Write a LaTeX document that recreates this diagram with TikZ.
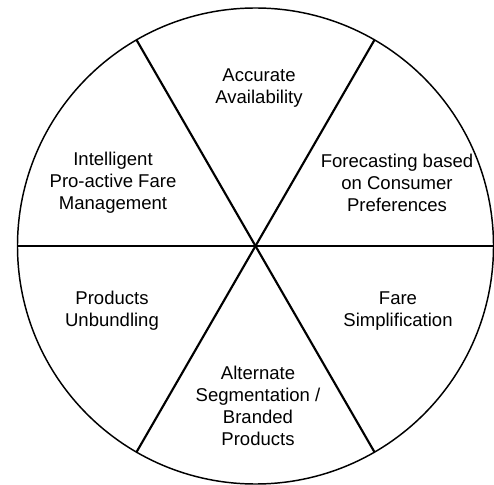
\documentclass[tikz,border=0pt]{standalone}
\usepackage{fontspec}
\setmainfont{Liberation Sans}
\begin{document}
\begin{tikzpicture}[x=0.75pt,y=-0.75pt,
  rim/.style={line width=1.1pt},
  spoke/.style={line width=1.6pt},
  label/.style={align=center,inner sep=0pt,
    font=\fontsize{13.9pt}{16.5pt}\selectfont}]
  \useasboundingbox (0,0) rectangle (494,485);
  \coordinate (c) at (255.5,246);
  % outer circle
  \draw[rim] (c) circle[radius=238*0.75pt];
  % three diameters split the disc into six sectors
  \draw[spoke] ([shift={(180:238*0.75pt)}]c) -- ([shift={(0:238*0.75pt)}]c);
  \draw[spoke] ([shift={(60:238*0.75pt)}]c) -- ([shift={(240:238*0.75pt)}]c);
  \draw[spoke] ([shift={(120:238*0.75pt)}]c) -- ([shift={(300:238*0.75pt)}]c);
  % sector labels
  \node[label] (top) at (259,88) {Accurate\\Availability};
  \node[label] (tr) at (397,183) {Forecasting based\\on Consumer\\Preferences};
  \node[label] (tl) at (113,183) {Intelligent\\Pro-active Fare\\Management};
  \node[label] (bl) at (112,311) {Products\\Unbundling};
  \node[label] (br) at (398,311) {Fare\\Simplification};
  \node[label] (bot) at (258,406) {Alternate\\Segmentation /\\Branded\\Products};
\end{tikzpicture}
\end{document}
